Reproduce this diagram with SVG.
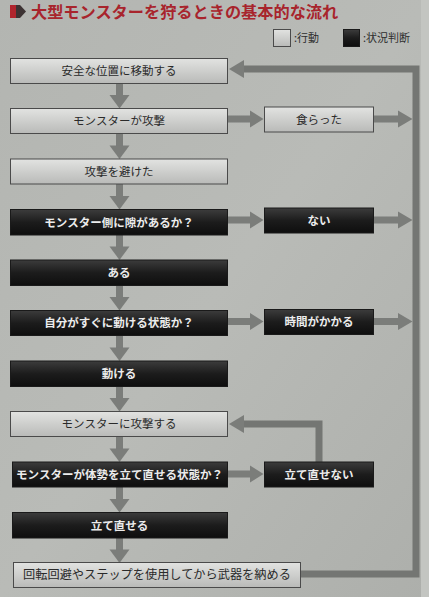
<svg xmlns="http://www.w3.org/2000/svg" width="429" height="597" viewBox="0 0 429 597">
<defs>
<linearGradient id="gl" x1="0" y1="0" x2="0" y2="1">
<stop offset="0" stop-color="#e2e3e1"/>
<stop offset="1" stop-color="#b9bab8"/>
</linearGradient>
<linearGradient id="gd" x1="0" y1="0" x2="0" y2="1">
<stop offset="0" stop-color="#3c3c3c"/>
<stop offset="0.5" stop-color="#1c1c1c"/>
<stop offset="1" stop-color="#0e0e0e"/>
</linearGradient>
<linearGradient id="bg" x1="0" y1="0" x2="1" y2="1">
<stop offset="0" stop-color="#b3b5b1"/>
<stop offset="0.5" stop-color="#b9bbb7"/>
<stop offset="1" stop-color="#adafab"/>
</linearGradient>
</defs>
<style>
.light{fill:url(#gl);stroke:#4a4a4a;stroke-width:1}
.dark{fill:url(#gd);stroke:#1a1a1a;stroke-width:1}
.tl{font-family:"Noto Sans CJK JP","Noto Sans",sans-serif;font-size:11.5px;fill:#2a2a2a;text-anchor:middle}
.td{font-family:"Noto Sans CJK JP","Noto Sans",sans-serif;font-size:11.5px;font-weight:bold;fill:#ececec;text-anchor:middle}
.arw{fill:#7b7d7a}
.ln{fill:none;stroke:#747673;stroke-width:7;stroke-linejoin:miter}
.leg{font-family:"Noto Sans CJK JP","Noto Sans",sans-serif;font-size:11px;fill:#2e2e2e}
</style>
<rect x="0" y="0" width="429" height="597" fill="url(#bg)"/>
<rect x="421" y="0" width="8" height="597" fill="#c3c5c1"/>

<g id="title">
<rect x="10" y="5" width="6" height="13" fill="#b0252d"/>
<polygon points="16,5 20,5 26,11.5 20,18 16,18" fill="#3d3333"/>
<text x="31" y="18" font-family="'Noto Sans CJK JP','Noto Sans',sans-serif" font-size="16.2" font-weight="bold" fill="#a8242c">大型モンスターを狩るときの基本的な流れ</text>
</g>

<g id="legend">
<rect x="273.5" y="29.5" width="17" height="17" class="light"/>
<text x="294" y="42" class="leg">:行動</text>
<rect x="343.5" y="29.5" width="16" height="17" class="dark"/>
<text x="363" y="42" class="leg">:状況判断</text>
</g>

<g id="connectors">
<!-- vertical arrows -->
<g class="arw">
<rect x="116" y="83" width="7" height="13"/><polygon points="109.5,95 129.5,95 119.5,108.5"/>
<rect x="116" y="133.5" width="7" height="13"/><polygon points="109.5,145.5 129.5,145.5 119.5,159"/>
<rect x="116" y="184" width="7" height="13"/><polygon points="109.5,196 129.5,196 119.5,209.5"/>
<rect x="116" y="234.5" width="7" height="13"/><polygon points="109.5,246.5 129.5,246.5 119.5,260"/>
<rect x="116" y="285" width="7" height="13"/><polygon points="109.5,297 129.5,297 119.5,310.5"/>
<rect x="116" y="335.5" width="7" height="13"/><polygon points="109.5,347.5 129.5,347.5 119.5,361"/>
<rect x="116" y="386" width="7" height="13"/><polygon points="109.5,398 129.5,398 119.5,411.5"/>
<rect x="116" y="436.5" width="7" height="13"/><polygon points="109.5,448.5 129.5,448.5 119.5,462"/>
<rect x="116" y="487" width="7" height="13"/><polygon points="109.5,499 129.5,499 119.5,512.5"/>
<rect x="116" y="537.5" width="7" height="13"/><polygon points="109.5,549.5 129.5,549.5 119.5,563"/>
</g>
<!-- horizontal arrows to right boxes -->
<g class="arw">
<rect x="228" y="115.5" width="23" height="7"/><polygon points="250,110.5 250,127.5 263.5,119"/>
<rect x="228" y="216.5" width="23" height="7"/><polygon points="250,211.5 250,228.5 263.5,220"/>
<rect x="228" y="318" width="23" height="7"/><polygon points="250,313 250,330 263.5,321.5"/>
<rect x="228" y="470.5" width="23" height="7"/><polygon points="250,465.5 250,482.5 263.5,474"/>
<!-- from right boxes to the return line -->
<rect x="373" y="115.5" width="26" height="7"/><polygon points="398,110.5 398,127.5 412.5,119"/>
<rect x="373" y="216.5" width="26" height="7"/><polygon points="398,211.5 398,228.5 412.5,220"/>
<rect x="373" y="318" width="26" height="7"/><polygon points="398,313 398,330 412.5,321.5"/>
</g>
<!-- main return loop -->
<path class="ln" d="M301,574 H416 V69 H242"/>
<polygon class="arw" points="244,60 244,78 229,69"/>
<!-- inner loop -->
<path class="ln" d="M319,462 V424 H242"/>
<polygon class="arw" points="244,415 244,433 229,424"/>
</g>

<g id="n1"><rect x="10.5" y="58.5" width="217" height="25" class="light"/><text x="119" y="75" class="tl">安全な位置に移動する</text></g>
<g id="n2"><rect x="10.5" y="108.5" width="217" height="25" class="light"/><text x="119" y="125" class="tl">モンスターが攻撃</text></g>
<g id="n2r"><rect x="264.5" y="107" width="109" height="25" class="light"/><text x="319" y="123.5" class="tl">食らった</text></g>
<g id="n3"><rect x="10.5" y="159" width="217" height="25" class="light"/><text x="119" y="175.5" class="tl">攻撃を避けた</text></g>
<g id="n4"><rect x="10.5" y="209.5" width="217" height="25.5" class="dark"/><text x="119" y="226.5" class="td">モンスター側に隙があるか？</text></g>
<g id="n4r"><rect x="264.5" y="208" width="109" height="25" class="dark"/><text x="319" y="224.5" class="td">ない</text></g>
<g id="n5"><rect x="10.5" y="260" width="217" height="25.5" class="dark"/><text x="119" y="277" class="td">ある</text></g>
<g id="n6"><rect x="10.5" y="310.5" width="217" height="25" class="dark"/><text x="119" y="327" class="td">自分がすぐに動ける状態か？</text></g>
<g id="n6r"><rect x="264.5" y="309.5" width="109" height="25" class="dark"/><text x="319" y="326" class="td">時間がかかる</text></g>
<g id="n7"><rect x="10.5" y="361" width="217" height="25.5" class="dark"/><text x="119" y="378" class="td">動ける</text></g>
<g id="n8"><rect x="10.5" y="411.5" width="217" height="25" class="light"/><text x="119" y="428" class="tl">モンスターに攻撃する</text></g>
<g id="n9"><rect x="12.5" y="462" width="215" height="25" class="dark"/><text x="119.5" y="478.5" class="td">モンスターが体勢を立て直せる状態か？</text></g>
<g id="n9r"><rect x="264.5" y="462" width="109" height="25" class="dark"/><text x="319" y="478.5" class="td">立て直せない</text></g>
<g id="n10"><rect x="12.5" y="512.5" width="215" height="25.5" class="dark"/><text x="119.5" y="529.5" class="td">立て直せる</text></g>
<g id="n11"><rect x="13.5" y="562.5" width="287" height="25" class="light"/><text x="157" y="579" class="tl" font-size="12.2px" style="font-size:12.2px">回転回避やステップを使用してから武器を納める</text></g>
</svg>
